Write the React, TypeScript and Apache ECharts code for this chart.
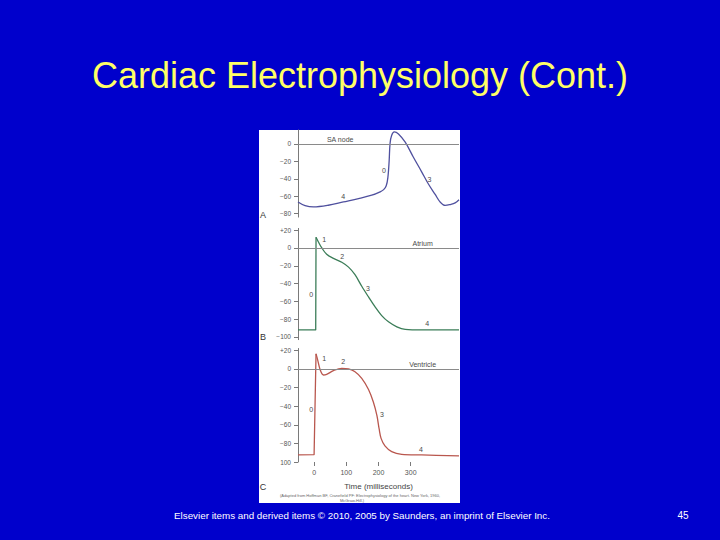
import React, { useEffect, useRef } from "react";
import * as echarts from "echarts";

// ---- Data (time in ms, membrane potential in mV) ----
const timeA = [-50, -28, -2, 44, 91, 138, 179, 205, 216, 224, 229, 233, 236, 241, 249, 262, 283, 308, 334, 355, 376, 391, 407, 422, 438, 450];
const mvA = [-66.6, -70.8, -72.3, -70.4, -66.6, -62.8, -58.9, -55, -52.5, -48, -39, -20, 1, 10, 13.8, 11.5, 2, -15, -32, -46, -58, -66.5, -70.6, -69.6, -67.7, -64];

const timeB = [-50, 5, 6, 13, 24, 39, 60, 86, 107, 127, 148, 169, 189, 210, 231, 257, 283, 334, 450];
const mvB = [-92, -92, 12, 7, 0, -7, -11.6, -16, -21.5, -30, -43, -55, -66, -76, -83, -88.6, -91.4, -92, -92];

const timeC = [-50, 0, 6, 11, 19, 29, 39, 60, 86, 107, 127, 148, 169, 184, 195, 202, 208, 220, 241, 272, 334, 450];
const mvC = [-92.4, -92, 16.3, 9.8, -1, -6.5, -5.8, -1.8, 0.7, 0, -2.9, -10, -22, -35.5, -50, -64.5, -74.6, -82.6, -88.8, -91.7, -92.4, -93.5];

// index of the spike peak (sharp corner: drawn straight up to here, smooth after)
const peakIndexA = 0;
const peakIndexB = 2;
const peakIndexC = 2;

const yTicksA = [0, -20, -40, -60, -80];
const yTickLabelsA = ["0", "\u221220", "\u221240", "\u221260", "\u221280"];
const yTicksB = [20, 0, -20, -40, -60, -80, -100];
const yTickLabelsB = ["+20", "0", "\u221220", "\u221240", "\u221260", "\u221280", "\u2212100"];
const yTicksC = [20, 0, -20, -40, -60, -80, -100];
const yTickLabelsC = ["+20", "0", "\u221220", "\u221240", "\u221260", "\u221280", "100"];
const xTicks = [0, 100, 200, 300];
const xTickLabels = ["0", "100", "200", "300"];

// phase annotations: [label, time, mV]
const notesA: [string, number, number][] = [["SA node", 81, 4.6], ["0", 217, -30], ["3", 358, -41], ["4", 90, -60]];
const notesB: [string, number, number][] = [["Atrium", 337, 5.3], ["1", 31, 9], ["2", 87, -10], ["3", 167, -46], ["0", -9, -52], ["4", 351, -85]];
const notesC: [string, number, number][] = [["Ventricle", 337, 5], ["1", 31, 11], ["2", 90, 7.6], ["0", -9, -43.5], ["3", 211, -49], ["4", 332, -86.6]];

const TITLE = "Cardiac Electrophysiology (Cont.)";
const FOOTER = "Elsevier items and derived items \u00a9 2010, 2005 by Saunders, an imprint of Elsevier Inc.";
const CITE1 = "(Adapted from Hoffman BF, Cranefield PF: Electrophysiology of the heart. New York, 1960,";
const CITE2 = "McGraw-Hill.)";

const FONT = "'Liberation Sans', Arial, sans-serif";
const AX = "#7a7a7a";
const TXT = "#555555";

function pairs(t: number[], v: number[]) {
  return t.map((x, i) => [x, v[i]]);
}

function yAxisFor(idx: number, min: number, max: number, ticks: number[], labels: string[]) {
  return {
    type: "value",
    gridIndex: idx,
    min,
    max,
    splitLine: { show: false },
    axisLine: { show: true, onZero: false, lineStyle: { color: AX, width: 1 } },
    axisTick: { show: true, length: 4, customValues: ticks, lineStyle: { color: AX } },
    axisLabel: {
      show: true,
      customValues: ticks,
      margin: 7,
      fontSize: 6.5,
      color: TXT,
      fontFamily: FONT,
      formatter: (v: number) => {
        const i = ticks.indexOf(v);
        return i >= 0 ? labels[i] : "";
      },
    },
  };
}

function seriesFor(idx: number, t: number[], v: number[], peak: number, color: string, notes: [string, number, number][]) {
  const all = pairs(t, v);
  const out: any[] = [];
  if (peak > 0) {
    out.push({
      type: "line",
      xAxisIndex: idx,
      yAxisIndex: idx,
      data: all.slice(0, peak + 1),
      showSymbol: false,
      smooth: false,
      lineStyle: { color, width: 1.3, join: "round" },
    });
  }
  out.push({
    type: "line",
    xAxisIndex: idx,
    yAxisIndex: idx,
    data: all.slice(peak),
    showSymbol: false,
    smooth: 0.35,
    lineStyle: { color, width: 1.3 },
    markLine: {
      silent: true,
      symbol: "none",
      label: { show: false },
      lineStyle: { color: "#8a8a8a", width: 1, type: "solid" },
      data: [{ yAxis: 0 }],
    },
    markPoint: {
      symbol: "circle",
      symbolSize: 0,
      label: {
        show: true,
        position: "inside",
        formatter: "{b}",
        color: "#4a4a4a",
        fontSize: 7,
        fontFamily: FONT,
      },
      data: notes.map((n) => ({ name: n[0], coord: [n[1], n[2]] })),
    },
  });
  return out;
}

export default function App() {
  const ref = useRef<HTMLDivElement>(null);
  useEffect(() => {
    document.body.style.margin = "0";
    if (!ref.current) return;
    const chart = echarts.init(ref.current, null, { renderer: "svg" });
    const GL = 298;
    const GW = 161;
    chart.setOption({
      animation: false,
      backgroundColor: "#0000CC",
      grid: [
        { left: GL, width: GW, top: 130, height: 87.1 },
        { left: GL, width: GW, top: 228.4, height: 111.25 },
        { left: GL, width: GW, top: 348.5, height: 113.5 },
      ],
      xAxis: [
        { type: "value", gridIndex: 0, min: -50, max: 450, show: false },
        { type: "value", gridIndex: 1, min: -50, max: 450, show: false },
        {
          type: "value",
          gridIndex: 2,
          min: -50,
          max: 450,
          splitLine: { show: false },
          axisLine: { show: false, onZero: false },
          axisTick: { show: true, length: 4, customValues: xTicks, lineStyle: { color: AX } },
          axisLabel: {
            customValues: xTicks,
            margin: 7,
            fontSize: 7,
            color: TXT,
            fontFamily: FONT,
            formatter: (v: number) => {
              const i = xTicks.indexOf(v);
              return i >= 0 ? xTickLabels[i] : "";
            },
          },
          name: "Time (milliseconds)",
          nameLocation: "middle",
          nameGap: 20,
          nameTextStyle: { fontSize: 8, color: "#444", fontFamily: FONT },
        },
      ],
      yAxis: [
        yAxisFor(0, -84, 16, yTicksA, yTickLabelsA),
        yAxisFor(1, -103, 22, yTicksB, yTickLabelsB),
        yAxisFor(2, -100, 22, yTicksC, yTickLabelsC),
      ],
      series: [
        ...seriesFor(0, timeA, mvA, peakIndexA, "#4f509e", notesA),
        ...seriesFor(1, timeB, mvB, peakIndexB, "#3b7d58", notesB),
        ...seriesFor(2, timeC, mvC, peakIndexC, "#b9574e", notesC),
      ],
      graphic: [
        { type: "rect", z: -10, shape: { x: 259, y: 130, width: 201, height: 373 }, style: { fill: "#ffffff" } },
        {
          type: "text",
          x: 360,
          y: 75,
          style: {
            text: TITLE,
            fill: "#FFFF66",
            font: `36px ${FONT}`,
            textAlign: "center",
            textVerticalAlign: "middle",
            textShadowColor: "rgba(0,0,40,0.9)",
            textShadowOffsetX: 2,
            textShadowOffsetY: 2,
            textShadowBlur: 0,
          },
        },
        { type: "text", x: 263, y: 215, style: { text: "A", fill: "#333", font: `9px ${FONT}`, textAlign: "center", textVerticalAlign: "middle" } },
        { type: "text", x: 263, y: 337, style: { text: "B", fill: "#333", font: `9px ${FONT}`, textAlign: "center", textVerticalAlign: "middle" } },
        { type: "text", x: 263, y: 487, style: { text: "C", fill: "#333", font: `9px ${FONT}`, textAlign: "center", textVerticalAlign: "middle" } },
        { type: "text", x: 360, y: 495.5, style: { text: CITE1, fill: "#666", font: `4px ${FONT}`, textAlign: "center", textVerticalAlign: "middle" } },
        { type: "text", x: 352, y: 500.5, style: { text: CITE2, fill: "#666", font: `4px ${FONT}`, textAlign: "center", textVerticalAlign: "middle" } },
        { type: "text", x: 362, y: 515, style: { text: FOOTER, fill: "#ffffff", font: `9.8px ${FONT}`, textAlign: "center", textVerticalAlign: "middle" } },
        { type: "text", x: 683, y: 515, style: { text: "45", fill: "#ffffff", font: `10px ${FONT}`, textAlign: "center", textVerticalAlign: "middle" } },
      ],
    });
    return () => chart.dispose();
  }, []);
  return <div ref={ref} style={{ width: 720, height: 540 }} />;
}
